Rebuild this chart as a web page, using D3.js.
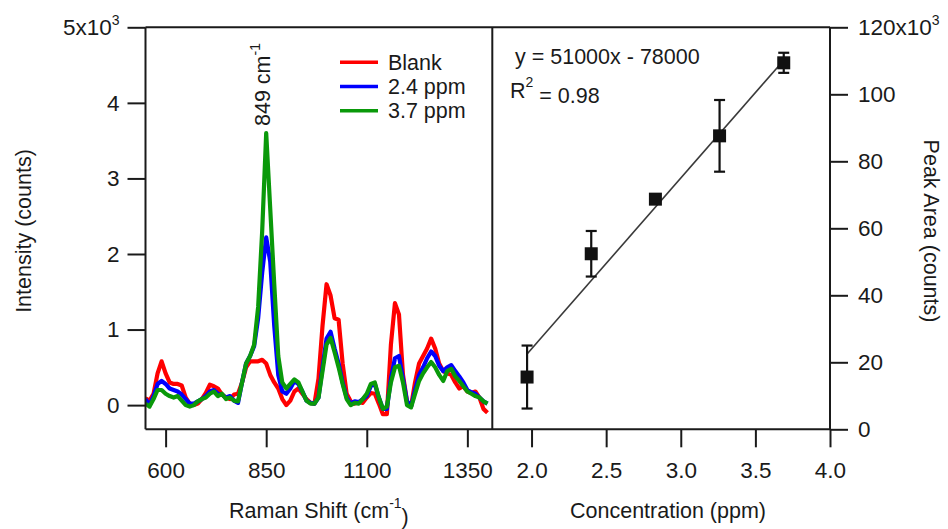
<!DOCTYPE html>
<html><head><meta charset="utf-8">
<script src="https://cdn.jsdelivr.net/npm/d3@7/dist/d3.min.js"></script>
<style>
body{margin:0;background:#fff;}
svg text{font-family:Arial,"Liberation Sans",sans-serif;fill:#1a1a1a;}
</style></head>
<body><svg id="c" width="948" height="529"></svg>
<script>
// ---- data ----
const wavenumber = [550,560,570,580,590,600,610,620,630,640,650,660,670,680,690,700,710,720,730,740,750,760,770,780,790,800,810,820,830,840,850,860,870,880,890,900,910,920,930,940,950,960,970,980,990,1000,1010,1020,1030,1040,1050,1060,1070,1080,1090,1100,1110,1120,1130,1140,1150,1160,1170,1180,1190,1200,1210,1220,1230,1240,1250,1260,1270,1280,1290,1300,1310,1320,1330,1340,1350,1360,1370,1380,1390,1400];
const blank = [0.09,0.06,0.15,0.42,0.58,0.42,0.3,0.28,0.28,0.26,0.1,0.02,0.0,0.02,0.08,0.16,0.27,0.25,0.22,0.14,0.1,0.08,0.14,0.15,0.3,0.5,0.58,0.58,0.58,0.6,0.55,0.4,0.3,0.22,0.08,0.0,0.06,0.18,0.22,0.15,0.08,0.03,0.02,0.35,1.05,1.6,1.45,1.15,1.13,0.55,0.15,0.05,0.02,0.04,0.03,0.1,0.16,0.15,0.02,-0.12,-0.12,0.8,1.35,1.2,0.4,0.05,-0.02,0.3,0.55,0.65,0.75,0.88,0.75,0.55,0.45,0.42,0.4,0.3,0.22,0.25,0.18,0.16,0.18,0.1,-0.05,-0.1];
const ppm24 = [0.08,0.0,0.12,0.28,0.32,0.28,0.22,0.2,0.18,0.14,0.08,0.02,0.02,0.05,0.08,0.12,0.18,0.2,0.15,0.14,0.1,0.12,0.06,0.03,0.3,0.55,0.65,0.78,1.15,1.75,2.22,1.9,1.05,0.4,0.18,0.15,0.22,0.32,0.28,0.18,0.06,0.03,0.02,0.1,0.5,0.88,0.97,0.75,0.55,0.3,0.1,0.02,0.05,0.04,0.08,0.12,0.25,0.28,0.1,-0.05,-0.05,0.35,0.62,0.65,0.35,0.05,-0.02,0.2,0.4,0.5,0.62,0.71,0.65,0.52,0.45,0.5,0.53,0.45,0.38,0.3,0.2,0.17,0.15,0.1,0.05,0.02];
const ppm37 = [0.02,-0.02,0.08,0.2,0.2,0.15,0.12,0.1,0.12,0.06,0.0,-0.02,0.0,0.05,0.08,0.1,0.15,0.18,0.12,0.15,0.08,0.1,0.06,0.05,0.3,0.55,0.65,0.8,1.3,2.3,3.6,2.6,1.6,0.65,0.3,0.22,0.28,0.34,0.3,0.18,0.06,0.02,0.02,0.1,0.45,0.8,0.89,0.7,0.5,0.28,0.08,0.0,0.03,0.02,0.08,0.15,0.28,0.3,0.1,-0.05,-0.02,0.3,0.5,0.52,0.3,0.0,-0.03,0.15,0.32,0.42,0.5,0.57,0.5,0.4,0.32,0.45,0.48,0.38,0.32,0.25,0.18,0.15,0.12,0.1,0.05,0.02];
const seriesNames = ["Blank","2.4 ppm","3.7 ppm"];
const seriesColors = ["#ff0000","#0000ff","#0a990a"];

const concentration = [1.97,2.40,2.83,3.26,3.69];
const peakArea = [15.6,52.4,68.7,87.6,109.4];      // x10^3
const peakAreaErr = [9.4,6.8,0.8,10.7,3.0];       // x10^3
const fitSlope = 51, fitIntercept = -78;           // x10^3
const fitRange = [1.97, 3.69];

const leftXTicks = [600,850,1100,1350];
const leftYTicks = [0,1,2,3,4,5];
const rightXTicks = [2.0,2.5,3.0,3.5,4.0];
const rightYTicks = [0,20,40,60,80,100,120];

// ---- layout ----
const svg = d3.select("#c");
const yTop = 27.3, yBot = 429.3, L0 = 145.5, L1 = 492.3, R1 = 830;
const ink = "#1a1a1a";
const FS = 21.5, FT = 22.5, FSUP = 14;

const xL = d3.scaleLinear().domain([550,1412]).range([L0,L1]);
const yL = d3.scaleLinear().domain([-0.32,5]).range([yBot,yTop]);
const xR = d3.scaleLinear().domain([1.737,4.0]).range([L1,R1]);
const yR = d3.scaleLinear().domain([0,120]).range([yBot,yTop]);

svg.append("defs").append("clipPath").attr("id","clipL")
  .append("rect").attr("x",L0).attr("y",yTop).attr("width",L1-L0).attr("height",yBot-yTop);

// spectra
const gS = svg.append("g").attr("clip-path","url(#clipL)");
const line = d3.line().x((d,i)=>xL(wavenumber[i])).y(d=>yL(d));
[blank,ppm24,ppm37].forEach((s,k)=>{
  gS.append("path").datum(s).attr("d",line).attr("fill","none")
    .attr("stroke",seriesColors[k]).attr("stroke-width",4.2).attr("stroke-linejoin","round");
});

// axes
function styleAxis(g){
  g.select(".domain").remove();
  g.selectAll(".tick line").attr("stroke",ink).attr("stroke-width",2);
  g.selectAll(".tick text").attr("font-size",FT).attr("fill",ink).attr("font-family",'Arial,"Liberation Sans",sans-serif');
}
const axL = svg.append("g").attr("transform",`translate(${L0},0)`)
  .call(d3.axisLeft(yL).tickValues(leftYTicks).tickSize(18).tickPadding(8).tickFormat(d=>d===5?"":d));
styleAxis(axL);
axL.selectAll(".tick").filter(d=>d===5).select("text").each(function(){
  const t=d3.select(this);
  t.append("tspan").text("5x10");
  t.append("tspan").text("3").attr("font-size",FSUP).attr("dy","-0.75em");
});

const axR = svg.append("g").attr("transform",`translate(${R1},0)`)
  .call(d3.axisRight(yR).tickValues(rightYTicks).tickSize(18).tickPadding(10).tickFormat(d=>d===120?"":d));
styleAxis(axR);
axR.selectAll(".tick").filter(d=>d===120).select("text").each(function(){
  const t=d3.select(this);
  t.append("tspan").text("120x10");
  t.append("tspan").text("3").attr("font-size",FSUP).attr("dy","-0.75em");
});

const axBL = svg.append("g").attr("transform",`translate(0,${yBot})`)
  .call(d3.axisBottom(xL).tickValues(leftXTicks).tickSize(18).tickPadding(15).tickFormat(d3.format("d")));
styleAxis(axBL);
const axBR = svg.append("g").attr("transform",`translate(0,${yBot})`)
  .call(d3.axisBottom(xR).tickValues(rightXTicks).tickSize(18).tickPadding(15).tickFormat(d3.format(".1f")));
styleAxis(axBR);

// frame
const fr = svg.append("g").attr("stroke",ink).attr("stroke-width",2).attr("fill","none");
fr.append("line").attr("x1",L0).attr("x2",R1).attr("y1",yTop).attr("y2",yTop);
fr.append("line").attr("x1",L0).attr("x2",R1).attr("y1",yBot).attr("y2",yBot);
fr.append("line").attr("x1",L0).attr("x2",L0).attr("y1",yTop).attr("y2",yBot);
fr.append("line").attr("x1",L1).attr("x2",L1).attr("y1",yTop).attr("y2",yBot);
fr.append("line").attr("x1",R1).attr("x2",R1).attr("y1",yTop).attr("y2",yBot);

// legend
const lg = svg.append("g");
seriesNames.forEach((n,k)=>{
  const y = 62.3 + k*24.2;
  lg.append("line").attr("x1",340).attr("x2",378).attr("y1",y).attr("y2",y)
    .attr("stroke",seriesColors[k]).attr("stroke-width",3.6);
  lg.append("text").attr("x",388).attr("y",y).attr("dy","0.35em").attr("font-size",FS).text(n);
});

// peak label
const pl = svg.append("text").attr("transform","translate(270,126) rotate(-90)").attr("font-size",FS);
pl.append("tspan").text("849 cm");
pl.append("tspan").text("-1").attr("font-size",FSUP).attr("dy","-0.75em");

// right panel: fit line
svg.append("line")
  .attr("x1",xR(fitRange[0])).attr("y1",yR(fitSlope*fitRange[0]+fitIntercept))
  .attr("x2",xR(fitRange[1])).attr("y2",yR(fitSlope*fitRange[1]+fitIntercept))
  .attr("stroke","#3a3a3a").attr("stroke-width",1.6);

// error bars + markers
const pts = concentration.map((c,i)=>({c, a:peakArea[i], e:peakAreaErr[i]}));
const eb = svg.append("g").attr("stroke","#111").attr("stroke-width",2.2);
pts.forEach(p=>{
  const x = xR(p.c);
  eb.append("line").attr("x1",x).attr("x2",x).attr("y1",yR(p.a+p.e)).attr("y2",yR(p.a-p.e));
  [p.a+p.e,p.a-p.e].forEach(v=>eb.append("line").attr("x1",x-5.5).attr("x2",x+5.5).attr("y1",yR(v)).attr("y2",yR(v)));
});
svg.append("g").selectAll("rect").data(pts).join("rect")
  .attr("x",d=>xR(d.c)-6.5).attr("y",d=>yR(d.a)-6.5).attr("width",13).attr("height",13).attr("fill","#111");

// annotation
svg.append("text").attr("x",515).attr("y",63.5).attr("font-size",FS).text("y = 51000x - 78000");
const r2 = svg.append("text").attr("x",510).attr("y",97.5).attr("font-size",FS);
r2.append("tspan").text("R");
r2.append("tspan").text("2").attr("font-size",FSUP).attr("dy","-0.75em");
r2.append("tspan").text(" = 0.98").attr("dy","0.75em");

// axis titles
const xt1 = svg.append("text").attr("x",(L0+L1)/2).attr("y",518).attr("text-anchor","middle").attr("font-size",FS);
xt1.append("tspan").text("Raman Shift (cm");
xt1.append("tspan").text("-1").attr("font-size",FSUP).attr("dy","-0.75em");
xt1.append("tspan").text(")").attr("dy","0.75em");
svg.append("text").attr("x",668).attr("y",518).attr("text-anchor","middle").attr("font-size",FS).text("Concentration (ppm)");
svg.append("text").attr("transform",`translate(31,231) rotate(-90)`).attr("text-anchor","middle").attr("font-size",FS).text("Intensity (counts)");
svg.append("text").attr("transform",`translate(924,231) rotate(90)`).attr("text-anchor","middle").attr("font-size",FS).text("Peak Area (counts)");
</script></body></html>
